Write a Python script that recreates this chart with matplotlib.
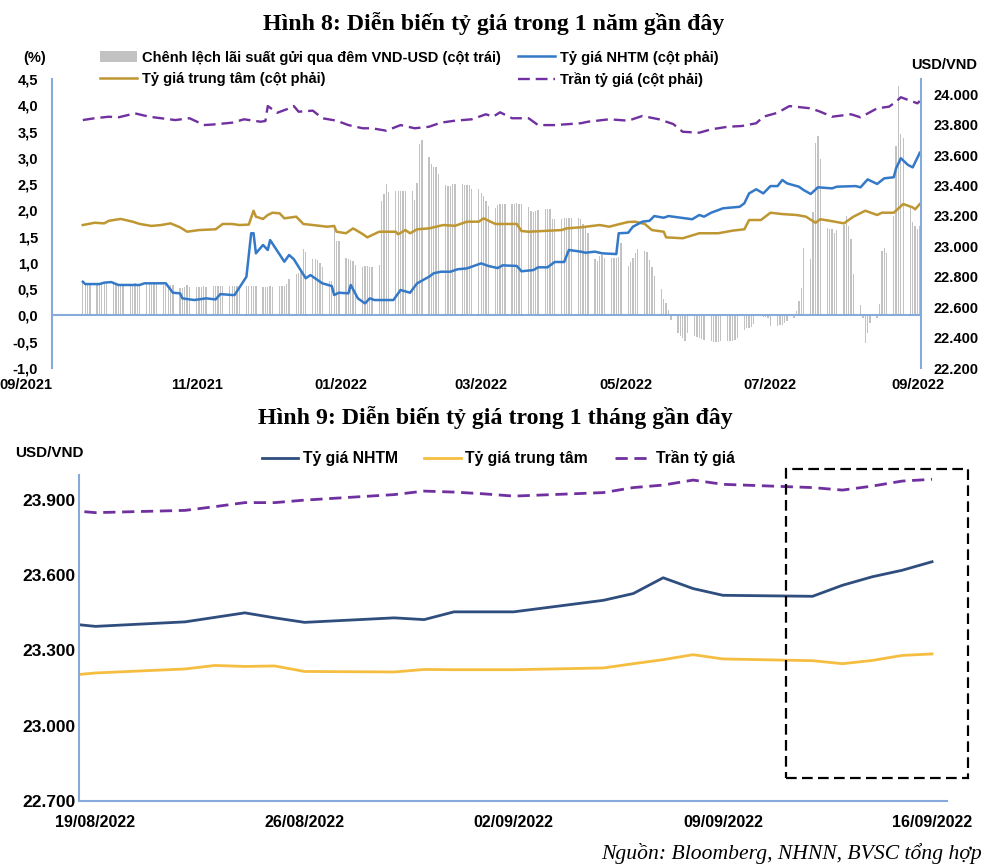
import numpy as np
import pandas as pd
import matplotlib
matplotlib.use('Agg')
import matplotlib.pyplot as plt
from matplotlib.patches import Rectangle, Patch
from matplotlib.lines import Line2D

plt.rcParams['font.family'] = ['Liberation Sans', 'DejaVu Sans']
plt.rcParams['font.weight'] = 'bold'
SERIF = ['Liberation Serif', 'DejaVu Serif']

# ---------------- Hình 8 data (1 year) ----------------
# overnight VND-USD deposit rate spread (%), one value per business day
spread = [
    0.62, 0.60, 0.60, 0.60,
    0.60, 0.60, 0.61, 0.60, 0.60,
    0.60, 0.61, 0.60, 0.60, 0.60,
    0.60, 0.60, 0.61, 0.60, 0.60,
    0.60, 0.60, 0.60, 0.62, 0.60,
    0.58, 0.58, 0.58, 0.58, 0.58,
    0.53, 0.53, 0.55, 0.58, 0.55,
    0.55, 0.55, 0.55, 0.56, 0.55,
    0.57, 0.57, 0.57, 0.57, 0.57,
    0.56, 0.56, 0.56, 0.56, 0.56,
    0.57, 0.57, 0.57, 0.57, 0.57,
    0.55, 0.55, 0.55, 0.56, 0.55,
    0.56, 0.56, 0.56, 0.60, 0.69,
    0.78, 0.80, 0.85, 1.27, 1.20,
    1.07, 1.07, 1.05, 1.00, 0.92,
    0.65, 0.65, 1.70, 1.42, 1.42,
    1.10, 1.07, 1.05, 1.03, 0.97,
    0.93, 0.95, 0.94, 0.93, 0.93,
    0.97, 2.18, 2.32, 2.50, 2.35,
    2.37, 2.37, 2.37, 2.37, 2.37,
    2.37, 2.20, 2.53, 3.26, 3.34,
    3.02, 2.88, 2.83, 2.83, 2.69,
    2.48, 2.47, 2.46, 2.51, 2.50,
    2.50, 2.49, 2.48, 2.48, 2.41,
    2.41, 2.33, 2.27, 2.18, 2.08,
    2.05, 2.10, 2.13, 2.13, 2.13,
    2.13, 2.12, 2.14, 2.12, 2.13,
    2.07, 1.99, 1.96, 1.99, 2.00,
    2.02, 2.02, 2.03, 1.84, 1.84,
    1.84, 1.85, 1.86, 1.86, 1.85,
    1.86, 1.83, 1.75, 1.67, 1.57,
    1.07, 1.04, 1.13, 1.16, 1.10,
    1.10, 1.10, 1.10, 1.12, 1.38,
    0.94, 1.02, 1.10, 1.19, 1.26,
    1.22, 1.20, 1.05, 0.93, 0.75,
    0.50, 0.32, 0.24, 0.10, -0.08,
    -0.33, -0.39, -0.42, -0.49, -0.33,
    -0.39, -0.41, -0.42, -0.45, -0.46,
    -0.49, -0.50, -0.50, -0.50, -0.49,
    -0.49, -0.49, -0.49, -0.47, -0.42,
    -0.27, -0.24, -0.24, -0.22, -0.17,
    0.00, -0.02, -0.03, -0.05, -0.20,
    -0.20, -0.19, -0.19, -0.15, -0.11,
    -0.04, 0.08, 0.27, 0.53, 1.29,
    1.08, 1.96, 3.29, 3.42, 2.97,
    1.67, 1.65, 1.65, 1.57, 1.63,
    1.73, 1.89, 1.71, 1.45, 0.78,
    0.19, -0.04, -0.52, -0.33, -0.14,
    -0.04, 0.21, 1.22, 1.29, 1.19,
    1.89, 3.23, 4.37, 3.45, 3.38,
    2.05, 1.77, 1.71, 1.65, 1.70,
]

# rate lines: day offset from 2021-09-13, value in VND per USD
ceiling_x = [1, 6, 12, 16, 23, 29, 34, 40, 46, 50, 52, 57, 64, 69, 76, 78, 79, 83, 87, 90,
             92, 98, 102, 108, 113, 119, 123, 129, 135, 141, 147, 152, 158, 165, 171, 174, 177, 182, 189, 193,
             200, 211, 214, 223, 231, 237, 244, 250, 254, 261, 266, 273, 279, 285, 288, 294, 299, 308, 312, 317,
             325, 329, 336, 341, 344, 346, 350, 353, 354]
ceiling_v = [23830, 23842, 23852, 23848, 23874, 23852, 23842, 23830, 23842, 23813, 23797, 23802, 23813, 23835, 23819, 23824, 23922, 23878, 23901, 23922,
             23885, 23892, 23842, 23826, 23797, 23776, 23776, 23760, 23797, 23776, 23786, 23813, 23826, 23835, 23868, 23852, 23881, 23842, 23842, 23797,
             23797, 23809, 23819, 23835, 23826, 23857, 23835, 23804, 23753, 23747, 23769, 23786, 23791, 23809, 23852, 23878, 23922, 23907, 23885, 23852,
             23868, 23848, 23907, 23918, 23951, 23980, 23957, 23940, 23955]

central_x = [1, 6, 10, 12, 17, 22, 25, 30, 34, 38, 42, 45, 50, 57, 60, 64, 67, 71, 73, 74,
             77, 79, 81, 84, 86, 91, 94, 98, 104, 107, 108, 112, 115, 119, 121, 123, 126, 133, 134, 137,
             139, 142, 147, 153, 158, 163, 168, 170, 175, 184, 186, 189, 203, 205, 211, 219, 223, 227, 231, 234,
             238, 241, 246, 247, 254, 261, 269, 275, 280, 282, 287, 291, 296, 302, 306, 310, 312, 316, 322, 326,
             331, 336, 338, 343, 347, 351, 352, 354]
central_v = [23140, 23155, 23151, 23168, 23180, 23162, 23147, 23134, 23140, 23151, 23125, 23096, 23107, 23112, 23147, 23147, 23140, 23143, 23234, 23195,
             23180, 23206, 23221, 23217, 23184, 23195, 23147, 23140, 23129, 23134, 23096, 23086, 23118, 23081, 23059, 23074, 23096, 23096, 23079, 23107,
             23086, 23112, 23118, 23140, 23135, 23162, 23162, 23184, 23147, 23147, 23101, 23096, 23107, 23118, 23125, 23140, 23129, 23145, 23160, 23162,
             23147, 23107, 23096, 23059, 23053, 23086, 23086, 23103, 23112, 23173, 23173, 23221, 23212, 23206, 23195, 23155, 23178, 23168, 23151, 23195,
             23234, 23206, 23221, 23221, 23278, 23256, 23243, 23278]

nhtm_x = [1, 2, 8, 10, 13, 16, 25, 27, 36, 39, 42, 43, 48, 53, 57, 59, 64, 65, 70, 72,
          73, 74, 77, 79, 80, 86, 88, 90, 95, 97, 102, 106, 107, 109, 113, 114, 117, 120, 122, 124,
          132, 135, 139, 142, 147, 149, 152, 156, 159, 163, 169, 172, 176, 178, 184, 186, 191, 193, 197, 200,
          204, 206, 211, 213, 217, 220, 226, 227, 231, 233, 237, 240, 242, 246, 248, 258, 261, 263, 266, 271,
          278, 280, 282, 285, 288, 291, 294, 296, 298, 303, 305, 308, 311, 317, 319, 327, 329, 332, 336, 339,
          343, 344, 346, 349, 351, 354]
nhtm_v = [22767, 22752, 22752, 22761, 22765, 22746, 22746, 22757, 22757, 22695, 22691, 22658, 22647, 22658, 22651, 22686, 22680, 22680, 22800, 23086,
          23086, 22954, 23009, 22976, 23041, 22899, 22943, 22915, 22790, 22811, 22757, 22739, 22680, 22695, 22691, 22746, 22658, 22625, 22658, 22647,
          22647, 22713, 22695, 22757, 22800, 22823, 22833, 22833, 22849, 22855, 22888, 22871, 22857, 22875, 22871, 22836, 22844, 22862, 22862, 22897,
          22897, 22976, 22965, 22958, 22965, 22954, 22949, 23086, 23089, 23129, 23162, 23168, 23199, 23188, 23199, 23178, 23206, 23195, 23221, 23250,
          23260, 23283, 23348, 23375, 23348, 23396, 23396, 23436, 23414, 23392, 23370, 23344, 23388, 23381, 23392, 23396, 23388, 23440, 23410, 23447,
          23454, 23513, 23579, 23535, 23519, 23615]

year_ticks = ['2021-09-01', '2021-11-01', '2022-01-01', '2022-03-01', '2022-05-01', '2022-07-01', '2022-09-01']
year_labels = ['09/2021', '11/2021', '01/2022', '03/2022', '05/2022', '07/2022', '09/2022']

# ---------------- Hình 9 data (1 month) ----------------
month_dates = ['2022-08-18', '2022-08-19', '2022-08-22', '2022-08-23', '2022-08-24', '2022-08-25', '2022-08-26',
               '2022-08-29', '2022-08-30', '2022-08-31', '2022-09-01', '2022-09-02', '2022-09-05', '2022-09-06',
               '2022-09-07', '2022-09-08', '2022-09-09', '2022-09-12', '2022-09-13', '2022-09-14', '2022-09-15',
               '2022-09-16']
m_nhtm = [23408, 23396, 23414, 23432, 23450, 23430, 23412, 23430, 23423, 23454, 23454, 23454, 23500, 23527,
          23590, 23547, 23520, 23516, 23560, 23594, 23620, 23654]
m_central = [23199, 23210, 23226, 23240, 23236, 23238, 23216, 23214, 23224, 23223, 23223, 23223, 23230, 23247,
             23263, 23283, 23266, 23259, 23247, 23260, 23280, 23286]
m_ceiling = [23860, 23850, 23859, 23874, 23890, 23890, 23900, 23922, 23936, 23932, 23925, 23916, 23930, 23950,
             23960, 23980, 23963, 23950, 23940, 23956, 23976, 23983]
month_ticks = ['2022-08-19', '2022-08-26', '2022-09-02', '2022-09-09', '2022-09-16']
month_labels = ['19/08/2022', '26/08/2022', '02/09/2022', '09/09/2022', '16/09/2022']

# colours
axis_blue = '#86AADB'
bar_grey = '#C2C2C2'
gold = '#BE9632'
blue = '#3479C8'
purple = '#7030A0'
navy = '#2F4E7D'
yellow = '#F5BE41'

fig = plt.figure(figsize=(10, 8.68), dpi=100)

# ================= Hình 8 =================
ax1 = fig.add_axes([0.052, 0.576, 0.869, 0.333])
ax1r = ax1.twinx()

start = pd.Timestamp('2021-09-13')
bar_dates = pd.bdate_range('2021-09-14', '2022-09-02')
bar_x = (bar_dates - start).days
ax1.bar(bar_x, spread, width=0.55, color=bar_grey, zorder=2)
ax1.axhline(0, color=axis_blue, lw=1.5, zorder=3)

ax1r.plot(central_x, central_v, color=gold, lw=1.8)
ax1r.plot(nhtm_x, nhtm_v, color=blue, lw=1.8)
ax1r.plot(ceiling_x, ceiling_v, color=purple, lw=1.7, ls=(0, (5, 2.5)))

ax1.set_xlim(-12, 354.5)
ax1.set_xticks((pd.to_datetime(year_ticks) - start).days)
ax1.set_xticklabels(year_labels)
ax1.set_ylim(-1, 4.5)
lticks = np.arange(-1.0, 4.51, 0.5)
ax1.set_yticks(lticks)
ax1.set_yticklabels([f'{v:.1f}'.replace('.', ',') for v in lticks])
ax1r.set_ylim(22200, 24100)
rticks = list(range(22200, 24001, 200))
ax1r.set_yticks(rticks)
ax1r.set_yticklabels([f'{v:,}'.replace(',', '.') for v in rticks])

for s in ['top', 'bottom', 'right']:
    ax1.spines[s].set_visible(False)
for s in ['top', 'bottom', 'left']:
    ax1r.spines[s].set_visible(False)
ax1.spines['left'].set_color(axis_blue)
ax1.spines['left'].set_linewidth(1.5)
ax1r.spines['right'].set_color(axis_blue)
ax1r.spines['right'].set_linewidth(1.5)
ax1.tick_params(axis='y', length=0, pad=10, labelsize=10.5)
ax1.tick_params(axis='x', length=0, pad=7, labelsize=10.5)
ax1r.tick_params(axis='y', length=0, pad=9, labelsize=10.5)
ax1.get_xticklabels()[0].set_ha('right')

fig.text(0.494, 1 - 24 / 868, 'Hình 8: Diễn biến tỷ giá trong 1 năm gần đây', family=SERIF,
         fontsize=17.2, weight='bold', ha='center', va='center')
fig.text(0.035, 1 - 58 / 868, '(%)', fontsize=10.5, ha='center', va='center')
fig.text(0.944, 1 - 65 / 868, 'USD/VND', fontsize=10.5, ha='center', va='center')

h8 = [Patch(facecolor=bar_grey, edgecolor='none'),
      Line2D([], [], color=gold, lw=1.8),
      Line2D([], [], color=blue, lw=1.8),
      Line2D([], [], color=purple, lw=1.7, ls=(0, (5, 2.5)))]
l8 = ['Chênh lệch lãi suất gửi qua đêm VND-USD (cột trái)', 'Tỷ giá trung tâm (cột phải)',
      'Tỷ giá NHTM (cột phải)', 'Trần tỷ giá (cột phải)']
fig.legend(h8, l8, loc='upper left', bbox_to_anchor=(0.100, 1 - 50.5 / 868), ncol=2, frameon=False,
           fontsize=10.5, handlelength=2.55, handletextpad=0.3, columnspacing=1.2, labelspacing=0.52,
           borderpad=0, borderaxespad=0)

# ================= Hình 9 =================
ax2 = fig.add_axes([0.0793, 0.0775, 0.8677, 0.3752])
m0 = pd.Timestamp('2022-08-19')
mx = (pd.to_datetime(month_dates) - m0).days
ax2.plot(mx, m_nhtm, color=navy, lw=2)
ax2.plot(mx, m_central, color=yellow, lw=2)
ax2.plot(mx, m_ceiling, color=purple, lw=2, ls=(0, (4.4, 2.4)))

ax2.set_xlim(-0.54, 28.5)
ax2.set_xticks((pd.to_datetime(month_ticks) - m0).days)
ax2.set_xticklabels(month_labels)
ax2.set_ylim(22700, 24000)
mticks = list(range(22700, 24000, 300))
ax2.set_yticks(mticks)
ax2.set_yticklabels([f'{v:,}'.replace(',', '.') for v in mticks])
for s in ['top', 'right']:
    ax2.spines[s].set_visible(False)
for s in ['left', 'bottom']:
    ax2.spines[s].set_color(axis_blue)
    ax2.spines[s].set_linewidth(1.5)
ax2.tick_params(axis='y', length=0, pad=3, labelsize=12.5)
ax2.tick_params(axis='x', length=0, pad=10, labelsize=11.5)

fig.text(0.495, 1 - 418 / 868, 'Hình 9: Diễn biến tỷ giá trong 1 tháng gần đây', family=SERIF,
         fontsize=17.2, weight='bold', ha='center', va='center')
fig.text(0.049, 1 - 453 / 868, 'USD/VND', fontsize=11, ha='center', va='center')

h9 = [Line2D([], [], color=navy, lw=2),
      Line2D([], [], color=yellow, lw=2),
      Line2D([], [], color=purple, lw=2, ls=(0, (4.4, 2.4)))]
l9 = ['Tỷ giá NHTM', 'Tỷ giá trung tâm', 'Trần tỷ giá']
fig.legend(h9, l9, loc='upper left', bbox_to_anchor=(0.262, 1 - 450 / 868), ncol=3, frameon=False,
           fontsize=11.3, handlelength=2.3, handletextpad=0.3, columnspacing=1.7,
           borderpad=0, borderaxespad=0)

fig.add_artist(Rectangle((0.786, 1 - 778 / 868), 0.182, (778 - 469) / 868, transform=fig.transFigure,
                         fill=False, ec='black', lw=1.6, ls=(0, (4.8, 2.4))))

fig.text(0.982, 1 - 853 / 868, 'Nguồn: Bloomberg, NHNN, BVSC tổng hợp', family=SERIF, style='italic',
         weight='normal', fontsize=15.6, ha='right', va='center')

fig.savefig('out.png', dpi=100)
